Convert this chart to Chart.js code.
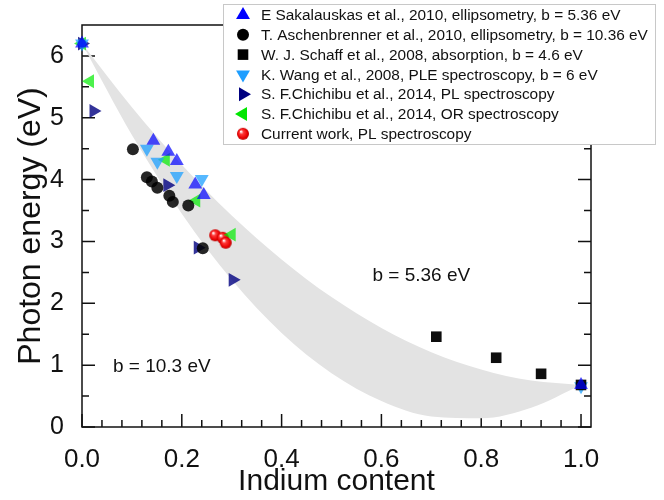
<!DOCTYPE html>
<html>
<head>
<meta charset="utf-8">
<script src="https://cdn.jsdelivr.net/npm/chart.js@4.4.1/dist/chart.umd.min.js"></script>
<style>
  html, body { margin: 0; padding: 0; background: #fff; }
  #wrap { width: 664px; height: 500px; }
</style>
</head>
<body>
<div id="wrap"><canvas id="bandgapChart" width="664" height="500"></canvas></div>
<script>
// Axis ticks
const xTicks = [0, 0.2, 0.4, 0.6, 0.8, 1.0];
const yTicks = [0, 1, 2, 3, 4, 5, 6];

// Grey band between the two bowing curves (b = 5.36 eV on top, b = 10.3 eV below)
const bandX = [0, 0.1, 0.2, 0.3, 0.4, 0.5, 0.6, 0.7, 0.8, 0.9, 1.0];
const bandUpper = [6.2, 5.17, 4.24, 3.42, 2.71, 2.10, 1.60, 1.21, 0.93, 0.75, 0.68];
const bandLower = [6.2, 4.72, 3.45, 2.38, 1.52, 0.87, 0.42, 0.17, 0.14, 0.31, 0.68];

// Measured points
const sakalX = [0, 0.143, 0.173, 0.19, 0.227, 0.244, 1.0];
const sakalY = [6.2, 4.63, 4.45, 4.30, 3.92, 3.75, 0.68];
const aschenX = [0.102, 0.13, 0.14, 0.151, 0.175, 0.182, 0.213, 0.242];
const aschenY = [4.49, 4.04, 3.97, 3.87, 3.74, 3.64, 3.58, 2.89];
const schaffX = [0.71, 0.83, 0.92, 1.0];
const schaffY = [1.46, 1.12, 0.86, 0.68];
const wangX = [0, 0.13, 0.151, 0.19, 0.24, 1.0];
const wangY = [6.2, 4.50, 4.29, 4.06, 4.01, 0.66];
const chiPLX = [0, 0.023, 0.171, 0.232, 0.302];
const chiPLY = [6.2, 5.11, 3.91, 2.90, 2.38];
const chiORX = [0, 0.016, 0.168, 0.229, 0.30];
const chiORY = [6.2, 5.59, 4.32, 3.66, 3.11];
const currentX = [0.267, 0.282, 0.288];
const currentY = [3.10, 3.06, 2.98];

const seriesNames = [
  'E Sakalauskas et al., 2010, ellipsometry, b = 5.36 eV',
  'T. Aschenbrenner et al., 2010, ellipsometry, b = 10.36 eV',
  'W. J. Schaff et al., 2008, absorption, b = 4.6 eV',
  'K. Wang et al., 2008, PLE spectroscopy, b = 6 eV',
  'S. F.Chichibu et al., 2014, PL spectroscopy',
  'S. F.Chichibu et al., 2014, OR spectroscopy',
  'Current work, PL spectroscopy'
];

// Text labels on the band
const annoText = ['b = 5.36 eV', 'b = 10.3 eV'];
const annoX = [0.68, 0.16];
const annoY = [2.45, 0.97];

const FONT = 'Arial, "Liberation Sans", sans-serif';

function pts(xs, ys) {
  return xs.map((x, i) => ({ x: x, y: ys[i] }));
}

// shaded red ball used for "Current work"
function makeSphere(r) {
  const c = document.createElement('canvas');
  c.width = c.height = 2 * r + 2;
  const g = c.getContext('2d');
  const m = r + 1;
  const grad = g.createRadialGradient(m - r * 0.35, m - r * 0.4, r * 0.08, m, m, r);
  grad.addColorStop(0, '#ffffff');
  grad.addColorStop(0.3, '#ff3a3a');
  grad.addColorStop(0.8, '#e80000');
  grad.addColorStop(1, '#b00000');
  g.fillStyle = grad;
  g.beginPath();
  g.arc(m, m, r, 0, Math.PI * 2);
  g.fill();
  return c;
}
const sphere = makeSphere(6);

function markerSet(i, xs, ys, style, rotation, radius, color, legendColor) {
  return {
    label: seriesNames[i],
    data: pts(xs, ys),
    pointStyle: style,
    pointRotation: rotation,
    pointRadius: radius,
    pointBackgroundColor: color,
    pointBorderWidth: 0,
    legendColor: legendColor,
    clip: false,
    order: 0
  };
}

const frameTicks = {
  id: 'frameTicks',
  beforeDatasetsDraw(chart) {
    const { ctx, chartArea: a, scales: { x, y } } = chart;
    ctx.save();
    ctx.strokeStyle = '#111';
    ctx.lineWidth = 1.5;
    ctx.beginPath();
    // minor/major x ticks, pointing inward
    for (let k = 0; k <= 25; k++) {
      const px = x.getPixelForValue(k * 0.04);
      const len = k % 5 === 0 ? 13 : 7;
      ctx.moveTo(px, a.bottom);
      ctx.lineTo(px, a.bottom - len);
    }
    // y ticks on both sides
    for (let k = 0; k <= 12; k++) {
      const py = y.getPixelForValue(k * 0.5);
      const len = k % 2 === 0 ? 13 : 7;
      ctx.moveTo(a.left, py);
      ctx.lineTo(a.left + len, py);
      ctx.moveTo(a.right, py);
      ctx.lineTo(a.right - len, py);
    }
    ctx.stroke();
    ctx.strokeRect(a.left, a.top, a.right - a.left, a.bottom - a.top);
    ctx.restore();
  },
  afterDatasetsDraw(chart) {
    const { ctx, scales: { x, y } } = chart;
    ctx.save();
    ctx.fillStyle = '#111';
    ctx.font = '19px ' + FONT;
    ctx.textAlign = 'center';
    ctx.textBaseline = 'middle';
    annoText.forEach((t, i) => {
      ctx.fillText(t, x.getPixelForValue(annoX[i]), y.getPixelForValue(annoY[i]));
    });
    ctx.restore();
  }
};

const legendBox = {
  id: 'legendBox',
  afterDraw(chart) {
    const ctx = chart.ctx;
    ctx.save();
    ctx.fillStyle = '#fff';
    ctx.strokeStyle = '#c8c8c8';
    ctx.lineWidth = 1;
    ctx.fillRect(223.5, 4.5, 432, 140);
    ctx.strokeRect(223.5, 4.5, 432, 140);
    ctx.font = '15.4px ' + FONT;
    ctx.textBaseline = 'middle';
    ctx.textAlign = 'left';
    const sets = chart.data.datasets.filter(ds => !ds.isBand);
    sets.forEach((ds, i) => {
      const yy = 15 + i * 19.8;
      ctx.fillStyle = ds.legendColor;
      Chart.helpers.drawPoint(ctx, {
        pointStyle: ds.pointStyle,
        rotation: ds.pointRotation,
        radius: ds.pointRadius,
        borderWidth: 0
      }, 243, yy);
      ctx.fillStyle = '#111';
      ctx.fillText(ds.label, 261, yy + 1);
    });
    ctx.restore();
  }
};

const ctx = document.getElementById('bandgapChart').getContext('2d');
new Chart(ctx, {
  type: 'scatter',
  data: {
    datasets: [
      {
        label: 'b = 5.36 eV',
        isBand: true,
        data: pts(bandX, bandUpper),
        showLine: true,
        pointRadius: 0,
        borderWidth: 0,
        borderColor: 'rgba(0,0,0,0)',
        cubicInterpolationMode: 'monotone',
        fill: false,
        order: 10
      },
      {
        label: 'b = 10.3 eV',
        isBand: true,
        data: pts(bandX, bandLower),
        showLine: true,
        pointRadius: 0,
        borderWidth: 0,
        borderColor: 'rgba(0,0,0,0)',
        backgroundColor: '#e3e3e3',
        cubicInterpolationMode: 'monotone',
        fill: '-1',
        order: 9
      },
      markerSet(0, sakalX, sakalY, 'triangle', 0, 8, 'rgba(0,0,255,0.7)', '#0000ff'),
      markerSet(1, aschenX, aschenY, 'circle', 0, 6, 'rgba(0,0,0,0.85)', '#000000'),
      markerSet(2, schaffX, schaffY, 'rect', 0, 7.5, 'rgba(0,0,0,0.95)', '#000000'),
      markerSet(3, wangX, wangY, 'triangle', 180, 8, 'rgba(30,160,255,0.75)', '#1e9eff'),
      markerSet(4, chiPLX, chiPLY, 'triangle', 90, 8, 'rgba(0,0,128,0.8)', '#000080'),
      markerSet(5, chiORX, chiORY, 'triangle', -90, 8, 'rgba(0,235,0,0.7)', '#00e600'),
      markerSet(6, currentX, currentY, sphere, 0, 6, '#e00000', '#e00000')
    ]
  },
  options: {
    responsive: false,
    devicePixelRatio: 1,
    animation: false,
    layout: { padding: { top: 15, right: 73, left: 0, bottom: 0 } },
    plugins: {
      legend: { display: false },
      tooltip: { enabled: false }
    },
    scales: {
      x: {
        type: 'linear',
        min: 0,
        max: 1.02,
        afterBuildTicks: s => { s.ticks = xTicks.map(v => ({ value: v })); },
        afterFit: s => { s.height = 73; },
        grid: { display: false },
        border: { display: false },
        ticks: {
          padding: 9,
          color: '#111',
          font: { family: FONT, size: 26 },
          callback: v => v.toFixed(1)
        },
        title: {
          display: true,
          text: 'Indium content',
          color: '#111',
          font: { family: FONT, size: 30 },
          padding: { top: 0, bottom: 0 }
        }
      },
      y: {
        type: 'linear',
        min: 0,
        max: 6.5,
        afterBuildTicks: s => { s.ticks = yTicks.map(v => ({ value: v })); },
        afterFit: s => { s.width = 82; },
        grid: { display: false },
        border: { display: false },
        ticks: {
          padding: 10,
          color: '#111',
          font: { family: FONT, size: 25 },
          callback: v => String(v)
        },
        title: {
          display: true,
          text: 'Photon energy (eV)',
          color: '#111',
          font: { family: FONT, size: 32 },
          padding: { top: 12, bottom: 0 }
        }
      }
    }
  },
  plugins: [frameTicks, legendBox]
});
</script>
</body>
</html>
